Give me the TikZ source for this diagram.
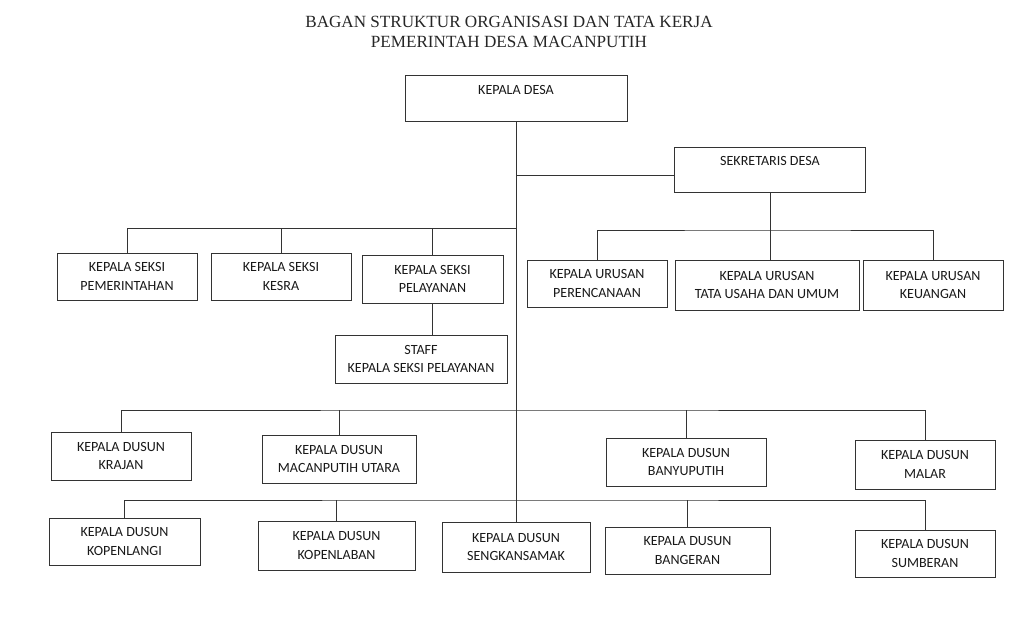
\documentclass[tikz,border=0pt]{standalone}
\usepackage{fontspec}
\setmainfont{Liberation Serif}
\newfontfamily\boxfont{Carlito}
\begin{document}
\begin{tikzpicture}[x=0.03cm,y=-0.03cm,
  box/.style={draw=black!80, line width=0.75pt, rectangle, inner sep=0pt, align=center,
    font=\boxfont\fontsize{12}{15.5}\selectfont, text=black!90},
  onebox/.style={box, text height=9pt, text depth=15pt},
  link/.style={draw=black!80, line width=0.6pt}]
\useasboundingbox[fill=white] (0,0) rectangle (1033,625);
\node[font=\fontsize{14.6}{17.5}\selectfont, align=center, text=black!85] (title) at (509,32)
  {BAGAN STRUKTUR ORGANISASI DAN TATA KERJA\\PEMERINTAH DESA MACANPUTIH};
% boxes
\node[onebox, minimum width=6.66cm, minimum height=1.38cm] (kd) at (516,98) {KEPALA DESA};
\node[onebox, minimum width=5.73cm, minimum height=1.35cm] (sek) at (770,169.5) {SEKRETARIS DESA};
\node[box, minimum width=4.2cm, minimum height=1.41cm] (s1) at (127,276.5) {KEPALA SEKSI\\PEMERINTAHAN};
\node[box, minimum width=4.2cm, minimum height=1.41cm] (s2) at (281,276.5) {KEPALA SEKSI\\KESRA};
\node[box, minimum width=4.23cm, minimum height=1.44cm] (s3) at (432.5,279) {KEPALA SEKSI\\PELAYANAN};
\node[box, minimum width=4.2cm, minimum height=1.41cm] (u1) at (597,283.5) {KEPALA URUSAN\\PERENCANAAN};
\node[box, minimum width=5.52cm, minimum height=1.5cm] (u2) at (767,285) {KEPALA URUSAN\\TATA USAHA DAN UMUM};
\node[box, minimum width=4.2cm, minimum height=1.5cm] (u3) at (933,285) {KEPALA URUSAN\\KEUANGAN};
\node[box, minimum width=5.16cm, minimum height=1.44cm] (staff) at (421,359) {STAFF\\KEPALA SEKSI PELAYANAN};
\node[box, minimum width=4.2cm, minimum height=1.44cm] (d1) at (121,456) {KEPALA DUSUN\\KRAJAN};
\node[box, minimum width=4.62cm, minimum height=1.44cm] (d2) at (339,459) {KEPALA DUSUN\\MACANPUTIH UTARA};
\node[box, minimum width=4.8cm, minimum height=1.44cm] (d3) at (686,462) {KEPALA DUSUN\\BANYUPUTIH};
\node[box, minimum width=4.2cm, minimum height=1.47cm] (d4) at (925,464.5) {KEPALA DUSUN\\MALAR};
\node[box, minimum width=4.53cm, minimum height=1.41cm] (e1) at (124.5,541.5) {KEPALA DUSUN\\KOPENLANGI};
\node[box, minimum width=4.71cm, minimum height=1.47cm] (e2) at (336.5,545.5) {KEPALA DUSUN\\KOPENLABAN};
\node[box, minimum width=4.44cm, minimum height=1.5cm] (e3) at (516,547) {KEPALA DUSUN\\SENGKANSAMAK};
\node[box, minimum width=4.95cm, minimum height=1.41cm] (e4) at (687.5,550.5) {KEPALA DUSUN\\BANGERAN};
\node[box, minimum width=4.2cm, minimum height=1.41cm] (e5) at (925,553.5) {KEPALA DUSUN\\SUMBERAN};
% junctions
\coordinate (jS) at (516,228);
\coordinate (jU) at (770,230);
\coordinate (j1) at (516,410);
\coordinate (j2) at (516,500);
\coordinate (jK) at (516,175);
% connectors
\draw[link] (kd.south) -- (e3.north);
\draw[link] (jK) -- (jK -| sek.west);
\draw[link] (s1.north) |- (jS);
\draw[link] (s2.north) -- (s2.north |- jS);
\draw[link] (s3.north) -- (s3.north |- jS);
\draw[link] (sek.south) -- (sek.south |- u2.north);
\draw[link] (u1.north) |- (jU) -| (u3.north);
\draw[link] (s3.south) -- (s3.south |- staff.north);
\draw[link] (d1.north) |- (j1) -| (d4.north);
\draw[link] (d2.north) -- (d2.north |- j1);
\draw[link] (d3.north) -- (d3.north |- j1);
\draw[link] (e1.north) |- (j2) -| (e5.north);
\draw[link] (e2.north) -- (e2.north |- j2);
\draw[link] (e4.north) -- (e4.north |- j2);
\end{tikzpicture}
\end{document}
